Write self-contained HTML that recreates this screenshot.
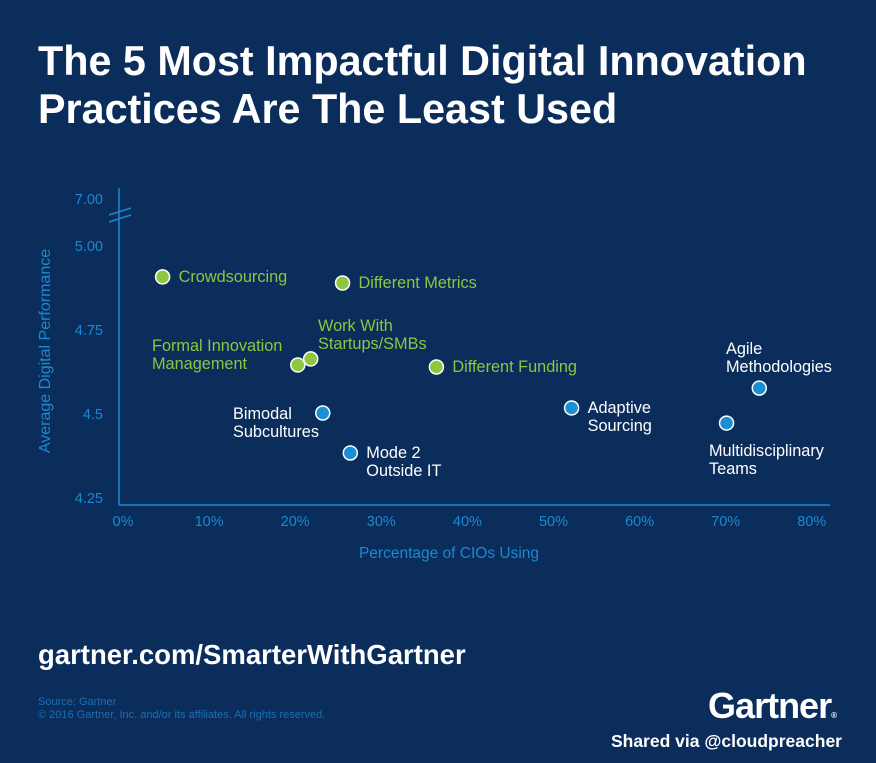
<!DOCTYPE html>
<html><head><meta charset="utf-8"><style>
body{margin:0;width:876px;height:763px;background:#0b2d5b;overflow:hidden;font-family:"Liberation Sans",sans-serif}
svg{position:absolute;left:0;top:0}
</style></head><body>
<svg id="c" width="876" height="763">
<text x="38" y="75" fill="#fff" font-size="41.3" font-weight="bold">The 5 Most Impactful Digital Innovation</text>
<text x="38" y="123" fill="#fff" font-size="41.3" font-weight="bold">Practices Are The Least Used</text>
<text x="38" y="664" fill="#fff" font-size="27.5" font-weight="bold">gartner.com/SmarterWithGartner</text>
<text x="38" y="705" fill="#1a6fb5" font-size="11">Source: Gartner</text>
<text x="38" y="718" fill="#1a6fb5" font-size="11">© 2016 Gartner, Inc. and/or its affiliates. All rights reserved.</text>
<text x="836" y="718" fill="#fff" font-size="36" font-weight="bold" text-anchor="end" letter-spacing="-1">Gartner<tspan font-size="8">®</tspan></text>
<text x="842" y="747" fill="#fff" font-size="17.5" font-weight="bold" text-anchor="end">Shared via @cloudpreacher</text>
<text transform="translate(50,351) rotate(-90)" fill="#1a8ad0" font-size="16" text-anchor="middle">Average Digital Performance</text>
<text x="449" y="558" fill="#1a8ad0" font-size="15.5" text-anchor="middle">Percentage of CIOs Using</text>
<g id="g"></g>
</svg>
<script>
const names=["Crowdsourcing","Different Metrics","Formal Innovation|Management","Work With|Startups/SMBs","Different Funding","Bimodal|Subcultures","Mode 2|Outside IT","Adaptive|Sourcing","Multidisciplinary|Teams","Agile|Methodologies"];
const xVals=[4.6,25.5,20.3,21.8,36.4,23.2,26.4,52.1,70.1,73.9];
const yVals=[4.908,4.89,4.646,4.664,4.64,4.503,4.384,4.518,4.473,4.577];
const groups=["g","g","g","g","g","b","b","b","b","b"];
const xTicks=[0,10,20,30,40,50,60,70,80];
const yTicks=[4.25,4.5,4.75,5.00];
const yTickLabels=["4.25","4.5","4.75","5.00"];
const X=v=>123+v*8.61, Y=v=>246+(5-v)*336;
const g=document.getElementById('g'),NS="http://www.w3.org/2000/svg";
function mk(t,a,p){const e=document.createElementNS(NS,t);for(const k in a)e.setAttribute(k,a[k]);(p||g).appendChild(e);return e;}
const ac="#1a8ad0";
let e=mk('line',{x1:119,y1:188,x2:119,y2:505,stroke:ac,'stroke-width':1.5});


e=mk('line',{x1:119,y1:505,x2:830,y2:505,stroke:ac,'stroke-width':1.5});


mk('line',{x1:109,y1:215,x2:131,y2:208,stroke:ac,'stroke-width':1.5});
mk('line',{x1:109,y1:222,x2:131,y2:215,stroke:ac,'stroke-width':1.5});
e=mk('text',{x:103,y:204,fill:ac,'font-size':14.5,'text-anchor':'end'});e.textContent="7.00";


yTicks.forEach((v,i)=>{const t=mk('text',{x:103,y:Y(v)+5,fill:ac,'font-size':14.5,'text-anchor':'end'});t.textContent=yTickLabels[i];

});
xTicks.forEach(v=>{const t=mk('text',{x:X(v),y:526,fill:ac,'font-size':14.5,'text-anchor':'middle'});t.textContent=v+"%";

});
const lab={0:['r'],1:['r'],2:['p',152,-14],3:['p',318,-28],4:['r'],5:['p',233,6],6:['r'],7:['r'],8:['p',709,33],9:['p',726,-34]};
names.forEach((n,i)=>{const cx=X(xVals[i]),cy=Y(yVals[i]);const green=groups[i]=="g";
const c=mk('circle',{cx,cy,r:7,fill:green?"#8dc63f":"#1b8fd6",stroke:"#fff",'stroke-width':1.5});


const L=lab[i],lines=n.split('|');let tx,ty;
if(L[0]=='r'){tx=cx+16;ty=cy+5;}else{tx=L[1];ty=cy+L[2];}
const t=mk('text',{x:tx,y:ty,fill:green?"#8dc63f":"#fff",'font-size':16.3});


lines.forEach((s,j)=>{const sp=mk('tspan',{x:tx,dy:j?18:0},t);sp.textContent=s;});});
</script>
</body></html>
